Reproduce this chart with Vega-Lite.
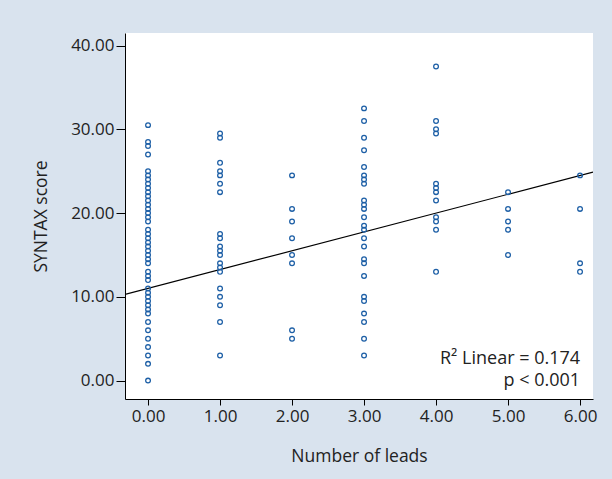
{
  "$schema": "https://vega.github.io/schema/vega-lite/v6.json",
  "autosize": {"type": "none"},
  "width": 468,
  "height": 366,
  "padding": {"left": 125, "top": 33, "right": 19, "bottom": 80},
  "background": "#d9e3ee",
  "config": {
    "view": {"fill": "white", "stroke": null},
    "font": "Open Sans"
  },
  "datasets": {
    "pts": [
      {"leads": 0, "syntax": 30.5}, {"leads": 0, "syntax": 28.5}, {"leads": 0, "syntax": 28}, {"leads": 0, "syntax": 27},
      {"leads": 0, "syntax": 25}, {"leads": 0, "syntax": 24.5}, {"leads": 0, "syntax": 24}, {"leads": 0, "syntax": 23.5},
      {"leads": 0, "syntax": 23}, {"leads": 0, "syntax": 22.5}, {"leads": 0, "syntax": 22}, {"leads": 0, "syntax": 21.5},
      {"leads": 0, "syntax": 21}, {"leads": 0, "syntax": 20.5}, {"leads": 0, "syntax": 20}, {"leads": 0, "syntax": 19.5},
      {"leads": 0, "syntax": 19}, {"leads": 0, "syntax": 18}, {"leads": 0, "syntax": 17.5}, {"leads": 0, "syntax": 17},
      {"leads": 0, "syntax": 16.5}, {"leads": 0, "syntax": 16}, {"leads": 0, "syntax": 15.5}, {"leads": 0, "syntax": 15},
      {"leads": 0, "syntax": 14.5}, {"leads": 0, "syntax": 14}, {"leads": 0, "syntax": 13}, {"leads": 0, "syntax": 12.5},
      {"leads": 0, "syntax": 12}, {"leads": 0, "syntax": 11}, {"leads": 0, "syntax": 10.5}, {"leads": 0, "syntax": 10},
      {"leads": 0, "syntax": 9.5}, {"leads": 0, "syntax": 9}, {"leads": 0, "syntax": 8.5}, {"leads": 0, "syntax": 8},
      {"leads": 0, "syntax": 7}, {"leads": 0, "syntax": 6}, {"leads": 0, "syntax": 5}, {"leads": 0, "syntax": 4},
      {"leads": 0, "syntax": 3}, {"leads": 0, "syntax": 2}, {"leads": 0, "syntax": 0},
      {"leads": 1, "syntax": 29.5}, {"leads": 1, "syntax": 29}, {"leads": 1, "syntax": 26}, {"leads": 1, "syntax": 25},
      {"leads": 1, "syntax": 24.5}, {"leads": 1, "syntax": 23.5}, {"leads": 1, "syntax": 22.5}, {"leads": 1, "syntax": 17.5},
      {"leads": 1, "syntax": 17}, {"leads": 1, "syntax": 16}, {"leads": 1, "syntax": 15.5}, {"leads": 1, "syntax": 15},
      {"leads": 1, "syntax": 14}, {"leads": 1, "syntax": 13.5}, {"leads": 1, "syntax": 13}, {"leads": 1, "syntax": 11},
      {"leads": 1, "syntax": 10}, {"leads": 1, "syntax": 9}, {"leads": 1, "syntax": 7}, {"leads": 1, "syntax": 3},
      {"leads": 2, "syntax": 24.5}, {"leads": 2, "syntax": 20.5}, {"leads": 2, "syntax": 19}, {"leads": 2, "syntax": 17},
      {"leads": 2, "syntax": 15}, {"leads": 2, "syntax": 14}, {"leads": 2, "syntax": 6}, {"leads": 2, "syntax": 5},
      {"leads": 3, "syntax": 32.5}, {"leads": 3, "syntax": 31}, {"leads": 3, "syntax": 29}, {"leads": 3, "syntax": 27.5},
      {"leads": 3, "syntax": 25.5}, {"leads": 3, "syntax": 24.5}, {"leads": 3, "syntax": 24}, {"leads": 3, "syntax": 23.5},
      {"leads": 3, "syntax": 21.5}, {"leads": 3, "syntax": 21}, {"leads": 3, "syntax": 20.5}, {"leads": 3, "syntax": 19.5},
      {"leads": 3, "syntax": 18.5}, {"leads": 3, "syntax": 18}, {"leads": 3, "syntax": 17}, {"leads": 3, "syntax": 16},
      {"leads": 3, "syntax": 14.5}, {"leads": 3, "syntax": 14}, {"leads": 3, "syntax": 12.5}, {"leads": 3, "syntax": 10},
      {"leads": 3, "syntax": 9.5}, {"leads": 3, "syntax": 8}, {"leads": 3, "syntax": 7}, {"leads": 3, "syntax": 5},
      {"leads": 3, "syntax": 3},
      {"leads": 4, "syntax": 37.5}, {"leads": 4, "syntax": 31}, {"leads": 4, "syntax": 30}, {"leads": 4, "syntax": 29.5},
      {"leads": 4, "syntax": 23.5}, {"leads": 4, "syntax": 23}, {"leads": 4, "syntax": 22.5}, {"leads": 4, "syntax": 21.5},
      {"leads": 4, "syntax": 19.5}, {"leads": 4, "syntax": 19}, {"leads": 4, "syntax": 18}, {"leads": 4, "syntax": 13},
      {"leads": 5, "syntax": 22.5}, {"leads": 5, "syntax": 20.5}, {"leads": 5, "syntax": 19}, {"leads": 5, "syntax": 18},
      {"leads": 5, "syntax": 15},
      {"leads": 6, "syntax": 24.5}, {"leads": 6, "syntax": 20.5}, {"leads": 6, "syntax": 14}, {"leads": 6, "syntax": 13}
    ],
    "fit": [
      {"leads": -0.32, "syntax": 10.28},
      {"leads": 6.18, "syntax": 24.9}
    ],
    "notes": [
      {"leads": 6.0, "syntax": 2.55, "label": "R² Linear = 0.174"},
      {"leads": 6.0, "syntax": -0.05, "label": "p < 0.001"}
    ]
  },
  "encoding": {
    "x": {
      "field": "leads", "type": "quantitative",
      "scale": {"domain": [-0.32, 6.18], "nice": false, "zero": false},
      "axis": {
        "values": [0, 1, 2, 3, 4, 5, 6], "format": ".2f", "grid": false,
        "domainColor": "black", "tickColor": "black", "tickSize": 6,
        "labelFontSize": 17, "labelColor": "#222", "labelPadding": 3,
        "title": "Number of leads", "titleFontSize": 17.5, "titleFontWeight": "normal",
        "titleColor": "#222", "titlePadding": 23
      }
    },
    "y": {
      "field": "syntax", "type": "quantitative",
      "scale": {"domain": [-2.2, 41.5], "nice": false, "zero": false},
      "axis": {
        "values": [0, 10, 20, 30, 40], "format": ".2f", "grid": false,
        "domainColor": "black", "tickColor": "black", "tickSize": 9,
        "labelFontSize": 17, "labelColor": "#222", "labelPadding": 2,
        "title": "SYNTAX score", "titleFontSize": 17.5, "titleFontWeight": "normal",
        "titleColor": "#222", "titlePadding": 20
      }
    }
  },
  "layer": [
    {
      "data": {"name": "fit"},
      "mark": {"type": "line", "color": "black", "strokeWidth": 1.2, "clip": true}
    },
    {
      "data": {"name": "pts"},
      "mark": {"type": "point", "shape": "circle", "filled": false, "color": "#1d5fa6", "size": 22, "strokeWidth": 1.3, "opacity": 1}
    },
    {
      "data": {"name": "notes"},
      "mark": {"type": "text", "align": "right", "baseline": "middle", "fontSize": 18, "color": "#222"},
      "encoding": {"text": {"field": "label"}}
    }
  ]
}
